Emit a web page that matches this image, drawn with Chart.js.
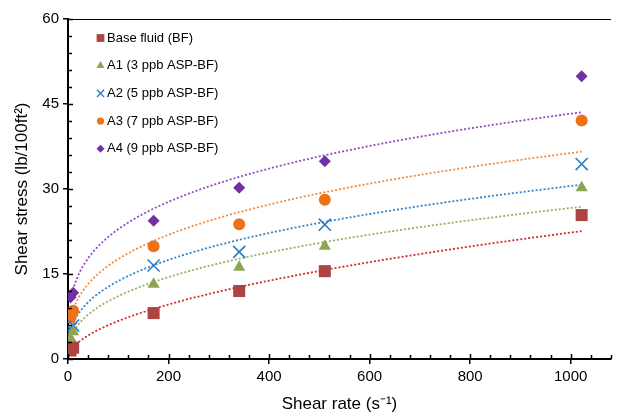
<!DOCTYPE html>
<html>
<head>
<meta charset="utf-8">
<script src="https://cdn.jsdelivr.net/npm/chart.js@4.4.1/dist/chart.umd.min.js"></script>
<style>
  html, body { margin: 0; padding: 0; background: #fff; }
  #wrap { width: 621px; height: 416px; }
</style>
</head>
<body>
<div id="wrap"><canvas id="chart"></canvas></div>
<script>
// Fann viscometer readings: shear rate (1/s) vs shear stress (lb/100ft2)
const shearRate = [5.1, 10.2, 170.3, 340.6, 510.9, 1021.8];
const baseFluid = [1.5, 2.0, 8.1, 12.0, 15.5, 25.4];
const a1 = [3.6, 4.8, 13.2, 16.2, 19.9, 30.2];
const a2 = [5.3, 5.9, 16.5, 18.9, 23.7, 34.4];
const a3 = [7.3, 8.5, 19.9, 23.8, 28.1, 42.1];
const a4 = [10.9, 11.7, 24.4, 30.2, 34.9, 49.9];

const seriesLabels = [
  "Base fluid (BF)",
  "A1 (3 ppb ASP-BF)",
  "A2 (5 ppb ASP-BF)",
  "A3 (7 ppb ASP-BF)",
  "A4 (9 ppb ASP-BF)",
];
const yTicks = [0, 15, 30, 45, 60];
const xTicks = [0, 200, 400, 600, 800, 1000];

const markerColors = ["#ab4442", "#8ea452", "#2a7dc8", "#ee7117", "#7131a1"];
const lineColors = ["#d42a2a", "#98ae64", "#2e86d0", "#f28a3c", "#8f4cc7"];
const styles = ["rect", "triangle", "crossRot", "circle", "rectRot"];
const radii = [8.5, 7, 8.5, 6, 6];
const legendRadii = [5.5, 4.6, 5, 3.6, 4];

const FONT = "'Liberation Sans', Arial, sans-serif";

// power-law trendline y = a*x^b, least squares on ln-ln
function powerFit(xs, ys) {
  const lx = xs.map(Math.log), ly = ys.map(Math.log);
  const n = xs.length;
  const mx = lx.reduce((s, v) => s + v, 0) / n;
  const my = ly.reduce((s, v) => s + v, 0) / n;
  let sxy = 0, sxx = 0;
  for (let i = 0; i < n; i++) {
    sxy += (lx[i] - mx) * (ly[i] - my);
    sxx += (lx[i] - mx) * (lx[i] - mx);
  }
  const b = sxy / sxx;
  const a = Math.exp(my - b * mx);
  return (x) => a * Math.pow(x, b);
}

function trendPoints(xs, ys) {
  const f = powerFit(xs, ys);
  const x0 = Math.min(...xs), x1 = Math.max(...xs);
  const pts = [];
  for (let i = 0; i <= 200; i++) {
    const x = x0 + (x1 - x0) * Math.pow(i / 200, 2);
    pts.push({ x: x, y: f(x) });
  }
  return pts;
}

const allSeries = [baseFluid, a1, a2, a3, a4];

const datasets = [];
allSeries.forEach((ys, i) => {
  datasets.push({
    type: "line",
    label: seriesLabels[i] + " fit",
    data: trendPoints(shearRate, ys),
    borderColor: lineColors[i],
    borderWidth: 1.8,
    borderDash: [2, 2],
    pointRadius: 0,
    fill: false,
    tension: 0,
    order: 10,
  });
});
allSeries.forEach((ys, i) => {
  datasets.push({
    type: "scatter",
    label: seriesLabels[i],
    data: shearRate.map((x, k) => ({ x: x, y: ys[k] })),
    pointStyle: styles[i],
    pointRadius: radii[i],
    pointHoverRadius: radii[i],
    backgroundColor: markerColors[i],
    borderColor: markerColors[i],
    borderWidth: styles[i] === "crossRot" ? 1.6 : 0,
    order: 1,
  });
});

function drawMarker(ctx, style, r, x, y, color) {
  if (Chart.helpers && Chart.helpers.drawPoint) {
    ctx.save();
    ctx.fillStyle = color;
    ctx.strokeStyle = color;
    ctx.lineWidth = style === "crossRot" ? 1.4 : 0.01;
    Chart.helpers.drawPoint(ctx, { pointStyle: style, radius: r, borderWidth: ctx.lineWidth, rotation: 0 }, x, y);
    ctx.restore();
  }
}

// inward tick marks, minor ticks, top frame line and legend
const framePlugin = {
  id: "frame",
  afterDraw(chart) {
    const ctx = chart.ctx;
    const area = chart.chartArea;
    const xs = chart.scales.x, ys = chart.scales.y;
    ctx.save();
    ctx.strokeStyle = "#000";

    ctx.lineWidth = 1;
    ctx.beginPath();
    ctx.moveTo(area.left, area.top + 0.5);
    ctx.lineTo(area.right, area.top + 0.5);
    ctx.stroke();

    ctx.lineWidth = 1.5;
    ctx.beginPath();
    for (let v = 0; v <= 1080; v += 40) {
      const px = Math.round(xs.getPixelForValue(v)) + 0.5;
      const len = v % 200 === 0 ? 5 : 4;
      ctx.moveTo(px, area.bottom);
      ctx.lineTo(px, area.bottom - len);
    }
    for (let v = 0; v <= 60; v += 3) {
      const py = Math.round(ys.getPixelForValue(v)) + 0.5;
      const len = v % 15 === 0 ? 5 : 4;
      ctx.moveTo(area.left, py);
      ctx.lineTo(area.left + len, py);
    }
    ctx.stroke();

    // legend
    ctx.font = "13px " + FONT;
    ctx.fillStyle = "#000";
    ctx.textBaseline = "middle";
    seriesLabels.forEach((t, i) => {
      const y = 38 + i * 27.7;
      drawMarker(ctx, styles[i], legendRadii[i], 100.5, y, markerColors[i]);
      ctx.fillStyle = "#000";
      ctx.fillText(t, 107, y);
    });
    ctx.restore();
  },
};

const ctx = document.getElementById("chart");
new Chart(ctx, {
  data: { datasets: datasets },
  plugins: [framePlugin],
  options: {
    responsive: true,
    maintainAspectRatio: false,
    animation: false,
    events: [],
    layout: { padding: { top: 19, right: 0, left: 0, bottom: 0 } },
    plugins: {
      legend: { display: false },
      tooltip: { enabled: false },
    },
    scales: {
      x: {
        type: "linear",
        min: 0,
        max: 1080,
        afterFit: (s) => { s.height = 57; },
        afterBuildTicks: (s) => { s.ticks = xTicks.map((v) => ({ value: v })); },
        ticks: {
          color: "#000",
          padding: 4,
          maxRotation: 0,
          font: { family: FONT, size: 15 },
          callback: (v) => String(v),
        },
        grid: { drawOnChartArea: false, drawTicks: true, tickLength: 5, color: "#000", lineWidth: 1.5 },
        border: { display: true, color: "#000", width: 2 },
        title: {
          display: true,
          text: "Shear rate (s\u207B\u00B9)",
          color: "#000",
          font: { family: FONT, size: 17 },
          padding: { top: 0, bottom: 1 },
        },
      },
      y: {
        type: "linear",
        min: 0,
        max: 60,
        afterFit: (s) => { s.width = 68; },
        afterBuildTicks: (s) => { s.ticks = yTicks.map((v) => ({ value: v })); },
        ticks: {
          color: "#000",
          padding: 4,
          font: { family: FONT, size: 15 },
          callback: (v) => String(v),
        },
        grid: { drawOnChartArea: false, drawTicks: true, tickLength: 5, color: "#000", lineWidth: 1.5 },
        border: { display: true, color: "#000", width: 2 },
        title: {
          display: true,
          text: "Shear stress (lb/100ft\u00B2)",
          color: "#000",
          font: { family: FONT, size: 17 },
          padding: { top: 12, bottom: 0 },
        },
      },
    },
  },
});
</script>
</body>
</html>
